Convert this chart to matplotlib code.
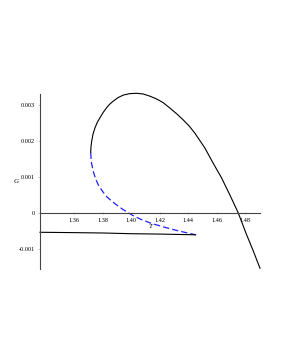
import matplotlib
matplotlib.use("Agg")
import matplotlib.pyplot as plt

# Upper black branch (from the cusp over the maximum and down to the right edge)
T_upper = [1.3716, 1.3718, 1.3723, 1.3732, 1.3746, 1.3762, 1.3781, 1.3804, 1.3828, 1.3850,
           1.3874, 1.3908, 1.3945, 1.3990, 1.4039, 1.4085, 1.4132, 1.4180, 1.4225, 1.4272,
           1.4320, 1.4366, 1.4410, 1.4448, 1.4518, 1.4576, 1.4635, 1.4693, 1.4752, 1.4811,
           1.4857, 1.4905]
G_upper = [0.00167, 0.00183, 0.00199, 0.00218, 0.00236, 0.00251, 0.00264, 0.00279, 0.00292, 0.00302,
           0.00310, 0.00320, 0.00327, 0.00331, 0.00332, 0.00330, 0.00324, 0.00316, 0.00306, 0.00291,
           0.00275, 0.00258, 0.00240, 0.00221, 0.00180, 0.00138, 0.00097, 0.00050, 0.00000, -0.00061,
           -0.00105, -0.00154]

# Blue dashed branch (cusp down to the lower corner)
T_dash = [1.3716, 1.3720, 1.3734, 1.3750, 1.3769, 1.3797, 1.3828, 1.3862, 1.3898, 1.3940,
          1.3980, 1.4020, 1.4062, 1.4140, 1.4226, 1.4330, 1.4453]
G_dash = [0.00167, 0.00142, 0.00115, 0.00095, 0.00078, 0.00061, 0.00045, 0.00033, 0.00022, 0.00010,
          0.00000, -0.00009, -0.00017, -0.00029, -0.00039, -0.00050, -0.00061]

# Lower black branch
T_lower = [1.3360, 1.3600, 1.3800, 1.4000, 1.4200, 1.4453]
G_lower = [-0.00054, -0.00055, -0.00056, -0.00058, -0.00059, -0.00061]

x_ticks = [1.36, 1.38, 1.40, 1.42, 1.44, 1.46, 1.48]
x_tick_labels = ["1.36", "1.38", "1.40", "1.42", "1.44", "1.46", "1.48"]
y_ticks = [-0.001, 0.0, 0.001, 0.002, 0.003]
y_tick_labels = ["-0.001", "0", "0.001", "0.002", "0.003"]

plt.rcParams['font.family'] = ['Liberation Serif', 'DejaVu Serif']

fig = plt.figure(figsize=(2.81, 3.63), dpi=100)
ax = fig.add_axes([40/281, (363-269)/363, 220/281, 175/363])

ax.plot(T_upper, G_upper, color='black', lw=0.8, clip_on=False)
ax.plot(T_dash, G_dash, color='#2020ff', lw=0.9, dashes=(5, 2.5), clip_on=False)
ax.plot(T_lower, G_lower, color='black', lw=0.8, clip_on=False)

ax.set_xlim(1.336, 1.4905)
ax.set_ylim(-0.00156, 0.0033)

for s in ['top', 'right']:
    ax.spines[s].set_visible(False)
ax.spines['bottom'].set_position(('data', 0))
for s in ['left', 'bottom']:
    ax.spines[s].set_color('#444444')
    ax.spines[s].set_linewidth(0.8)

ax.set_xticks(x_ticks)
ax.set_xticklabels(x_tick_labels)
ax.set_yticks(y_ticks)
ax.set_yticklabels(y_tick_labels)
ax.tick_params(axis='both', labelsize=4.5, length=1.5, width=0.4, color='#999999', pad=2)
ax.tick_params(axis='x', direction='inout', pad=3)

ax.text(1.4139, -0.00037, "T", fontsize=5, style='italic', ha='center', va='center')
ax.text(1.319, 0.00087, "G", fontsize=5, style='italic', ha='center', va='center', clip_on=False)

fig.savefig("out.png", dpi=100)
